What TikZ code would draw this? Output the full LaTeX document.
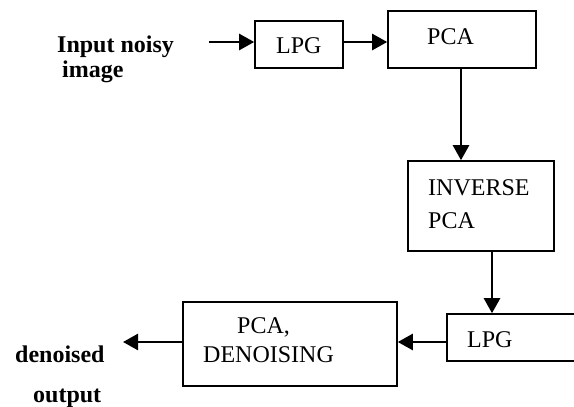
\documentclass[tikz,border=0pt]{standalone}
\usepackage{fontspec}
\setmainfont{Liberation Serif}
\usetikzlibrary{arrows.meta}
\begin{document}
\begin{tikzpicture}[x=1pt,y=-1pt,
  box/.style={draw=black,line width=1.6pt,rectangle,inner sep=0pt},
  arr/.style={draw=black,line width=2.5pt,-{Triangle[length=15pt,width=16pt]}},
  lbl/.style={anchor=base west,inner sep=0pt,font=\fontsize{24}{28}\selectfont},
  blbl/.style={lbl,font=\fontsize{24}{28}\selectfont\bfseries}]
\useasboundingbox (0,0) rectangle (574,407);
% boxes
\node[box,minimum width=88pt,minimum height=47pt] (lpg1) at (299,44.5) {};
\node[box,minimum width=148pt,minimum height=57pt] (pca) at (462,39.5) {};
\node[box,minimum width=146pt,minimum height=90pt] (inv) at (481,206) {};
\node[box,minimum width=128pt,minimum height=47pt] (lpg2) at (511,337.5) {};
\node[box,minimum width=214pt,minimum height=84pt] (den) at (290,344) {};
% texts
\node[blbl] (t1) at (57,52) {Input noisy};
\node[blbl] (t2) at (62,77) {image};
\node[lbl] (t3) at (276,53) {LPG};
\node[lbl] (t4) at (427,44) {PCA};
\node[lbl] (t5) at (428,195) {INVERSE};
\node[lbl] (t6) at (428,228) {PCA};
\node[lbl] (t7) at (467,347) {LPG};
\node[lbl] (t8) at (237,333) {PCA,};
\node[lbl] (t9) at (203,362) {DENOISING};
\node[blbl] (t10) at (15,362) {denoised};
\node[blbl] (t11) at (33,402) {output};
% helper coordinates
\coordinate (a0) at (209,42);
\coordinate (c1) at (461,0);
\coordinate (c2) at (492,0);
\coordinate (c3) at (0,342);
\coordinate (e0) at (123,342);
% connectors
\draw[arr] (a0) -- (lpg1.west |- a0);
\draw[arr] (lpg1.east |- a0) -- (pca.west |- a0);
\draw[arr] (pca.south -| c1) -- (inv.north -| c1);
\draw[arr] (inv.south -| c2) -- (lpg2.north -| c2);
\draw[arr] (lpg2.west |- c3) -- (den.east |- c3);
\draw[arr] (den.west |- c3) -- (e0);
\end{tikzpicture}
\end{document}
